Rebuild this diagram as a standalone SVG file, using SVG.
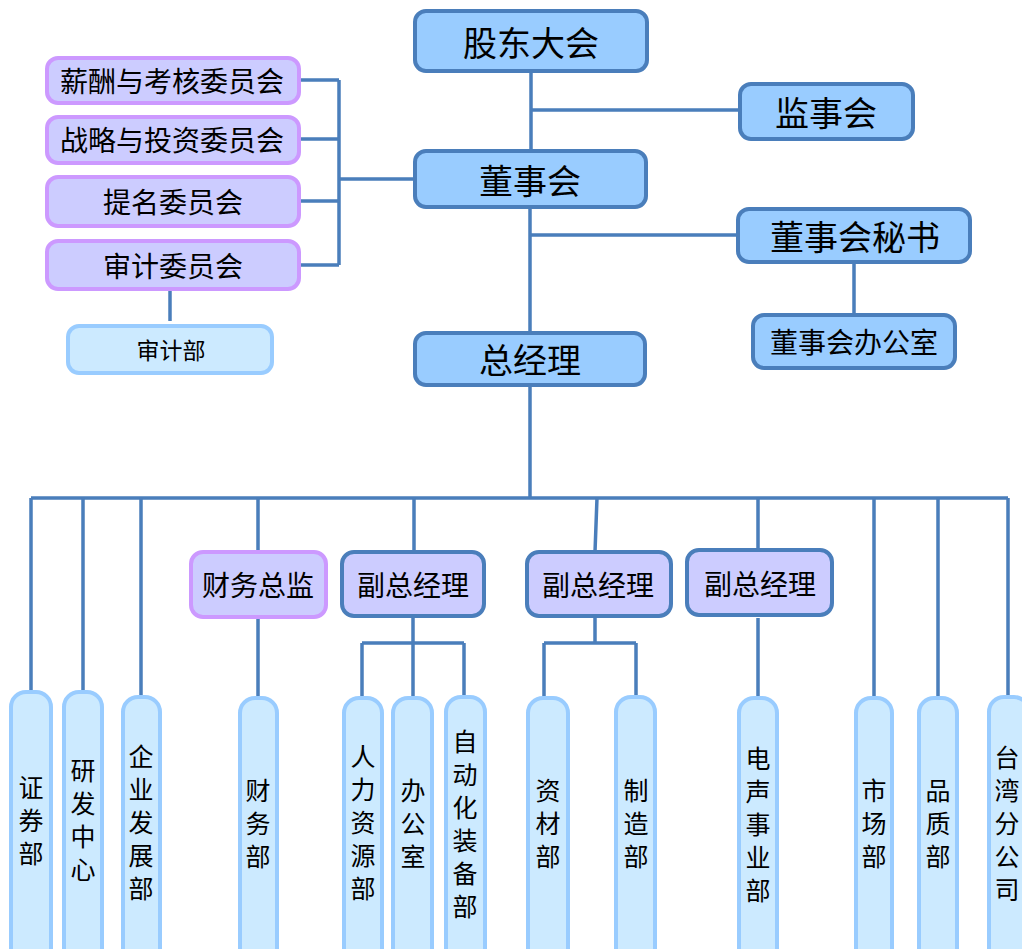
<svg xmlns="http://www.w3.org/2000/svg" width="1022" height="949" viewBox="0 0 1022 949">
<style>
.top{fill:#99ccff;stroke:#4a7ebb;stroke-width:4}
.com{fill:#ccccff;stroke:#cc99ff;stroke-width:4}
.vp{fill:#ccccff;stroke:#4a7ebb;stroke-width:4}
.dep{fill:#cceaff;stroke:#99ccff;stroke-width:4}
.t{font-family:"Noto Sans CJK SC","Noto Sans CJK TC",sans-serif;fill:#000;text-anchor:middle;dominant-baseline:central}
.t34{font-size:34px}
.t28{font-size:28px}
.t24{font-size:23px}
.tv{font-size:25px}
#connectors path{fill:none;stroke:#4a7ebb;stroke-width:3.5}
</style>
<rect width="1022" height="949" fill="#fff"/>
<g id="connectors">
<path d="M531 71V151M531 110H740"/>
<path d="M530 207V333M530 235H738M854 262V315"/>
<path d="M299 80H339M299 139H339M299 201H339M299 265H339M339 80V265M339 179H415"/>
<path d="M170 289V321"/>
<path d="M530 385V498M31 498H1008"/>
<path d="M31 498V693M83 498V692M141 498V696"/>
<path d="M258 498V550M258 617V698"/>
<path d="M414 498V552M413 616V643M362 643H464M362 643V699M413 643V699M464 643V698"/>
<path d="M597 498L595 552M595 616V643M544 643H636M544 643V699M636 643V698"/>
<path d="M758 498V550M758 618V700"/>
<path d="M874 498V698M938 498V696M1008 498V697"/>
</g>
<g id="n-gudong"><rect class="top" x="415" y="11" width="232" height="60" rx="11"/><text class="t t34" x="531" y="41">股东大会</text></g>
<g id="n-jianshi"><rect class="top" x="740" y="84" width="173" height="55" rx="11"/><text class="t t34" x="826" y="111">监事会</text></g>
<g id="n-dongshi"><rect class="top" x="415" y="151" width="231" height="56" rx="11"/><text class="t t34" x="530" y="179">董事会</text></g>
<g id="n-mishu"><rect class="top" x="738" y="209" width="232" height="53" rx="11"/><text class="t t34" x="855" y="235">董事会秘书</text></g>
<g id="n-dongban"><rect class="top" x="753" y="315" width="202" height="53" rx="11"/><text class="t t28" x="854" y="341">董事会办公室</text></g>
<g id="n-zongjingli"><rect class="top" x="415" y="333" width="230" height="52" rx="11"/><text class="t t34" x="530" y="358">总经理</text></g>
<g id="n-xinchou"><rect class="com" x="47" y="58" width="252" height="45" rx="11"/><text class="t t28" x="172" y="80">薪酬与考核委员会</text></g>
<g id="n-zhanlue"><rect class="com" x="47" y="117" width="252" height="46" rx="11"/><text class="t t28" x="172" y="139">战略与投资委员会</text></g>
<g id="n-timing"><rect class="com" x="47" y="177" width="252" height="49" rx="11"/><text class="t t28" x="173" y="201">提名委员会</text></g>
<g id="n-shenjiwei"><rect class="com" x="47" y="241" width="252" height="48" rx="11"/><text class="t t28" x="173" y="265">审计委员会</text></g>
<g id="n-shenjibu"><rect class="dep" x="68" y="326" width="204" height="47" rx="11"/><text class="t t24" x="171" y="349">审计部</text></g>
<g id="n-caiwuzongjian"><rect class="com" x="191" y="552" width="135" height="65" rx="12"/><text class="t t28" x="258" y="584">财务总监</text></g>
<g id="n-fu1"><rect class="vp" x="342" y="552" width="142" height="64" rx="12"/><text class="t t28" x="413" y="584">副总经理</text></g>
<g id="n-fu2"><rect class="vp" x="527" y="552" width="144" height="64" rx="12"/><text class="t t28" x="598" y="584">副总经理</text></g>
<g id="n-fu3"><rect class="vp" x="687" y="550" width="145" height="65" rx="12"/><text class="t t28" x="760" y="583">副总经理</text></g>
<g id="n-zhengquan"><rect class="dep" x="11" y="692" width="40" height="280" rx="15"/><text class="t tv"><tspan x="31" y="786">证</tspan><tspan x="31" y="819">券</tspan><tspan x="31" y="852">部</tspan></text></g>
<g id="n-yanfa"><rect class="dep" x="64" y="692" width="38" height="280" rx="15"/><text class="t tv"><tspan x="83" y="769">研</tspan><tspan x="83" y="802">发</tspan><tspan x="83" y="835">中</tspan><tspan x="83" y="868">心</tspan></text></g>
<g id="n-qiye"><rect class="dep" x="123" y="697" width="37" height="280" rx="15"/><text class="t tv"><tspan x="141" y="755">企</tspan><tspan x="141" y="788">业</tspan><tspan x="141" y="821">发</tspan><tspan x="141" y="854">展</tspan><tspan x="141" y="887">部</tspan></text></g>
<g id="n-caiwubu"><rect class="dep" x="240" y="698" width="37" height="280" rx="15"/><text class="t tv"><tspan x="258" y="789">财</tspan><tspan x="258" y="822">务</tspan><tspan x="258" y="855">部</tspan></text></g>
<g id="n-renli"><rect class="dep" x="344" y="698" width="38" height="280" rx="15"/><text class="t tv"><tspan x="363" y="755">人</tspan><tspan x="363" y="788">力</tspan><tspan x="363" y="821">资</tspan><tspan x="363" y="854">源</tspan><tspan x="363" y="887">部</tspan></text></g>
<g id="n-bangongshi"><rect class="dep" x="393" y="698" width="39" height="280" rx="15"/><text class="t tv"><tspan x="413" y="789">办</tspan><tspan x="413" y="822">公</tspan><tspan x="413" y="855">室</tspan></text></g>
<g id="n-zidonghua"><rect class="dep" x="446" y="697" width="39" height="280" rx="15"/><text class="t tv"><tspan x="465" y="740">自</tspan><tspan x="465" y="773">动</tspan><tspan x="465" y="806">化</tspan><tspan x="465" y="839">装</tspan><tspan x="465" y="872">备</tspan><tspan x="465" y="905">部</tspan></text></g>
<g id="n-zicai"><rect class="dep" x="528" y="698" width="40" height="280" rx="15"/><text class="t tv"><tspan x="548" y="789">资</tspan><tspan x="548" y="822">材</tspan><tspan x="548" y="855">部</tspan></text></g>
<g id="n-zhizao"><rect class="dep" x="616" y="697" width="39" height="280" rx="15"/><text class="t tv"><tspan x="636" y="789">制</tspan><tspan x="636" y="822">造</tspan><tspan x="636" y="855">部</tspan></text></g>
<g id="n-diansheng"><rect class="dep" x="739" y="698" width="38" height="280" rx="15"/><text class="t tv"><tspan x="758" y="757">电</tspan><tspan x="758" y="790">声</tspan><tspan x="758" y="823">事</tspan><tspan x="758" y="856">业</tspan><tspan x="758" y="889">部</tspan></text></g>
<g id="n-shichang"><rect class="dep" x="856" y="698" width="36" height="280" rx="15"/><text class="t tv"><tspan x="874" y="789">市</tspan><tspan x="874" y="822">场</tspan><tspan x="874" y="855">部</tspan></text></g>
<g id="n-pinzhi"><rect class="dep" x="919" y="698" width="38" height="280" rx="15"/><text class="t tv"><tspan x="938" y="789">品</tspan><tspan x="938" y="822">质</tspan><tspan x="938" y="855">部</tspan></text></g>
<g id="n-taiwan"><rect class="dep" x="989" y="697" width="40" height="280" rx="15"/><text class="t tv"><tspan x="1007" y="756">台</tspan><tspan x="1007" y="789">湾</tspan><tspan x="1007" y="822">分</tspan><tspan x="1007" y="855">公</tspan><tspan x="1007" y="888">司</tspan></text></g>
</svg>
